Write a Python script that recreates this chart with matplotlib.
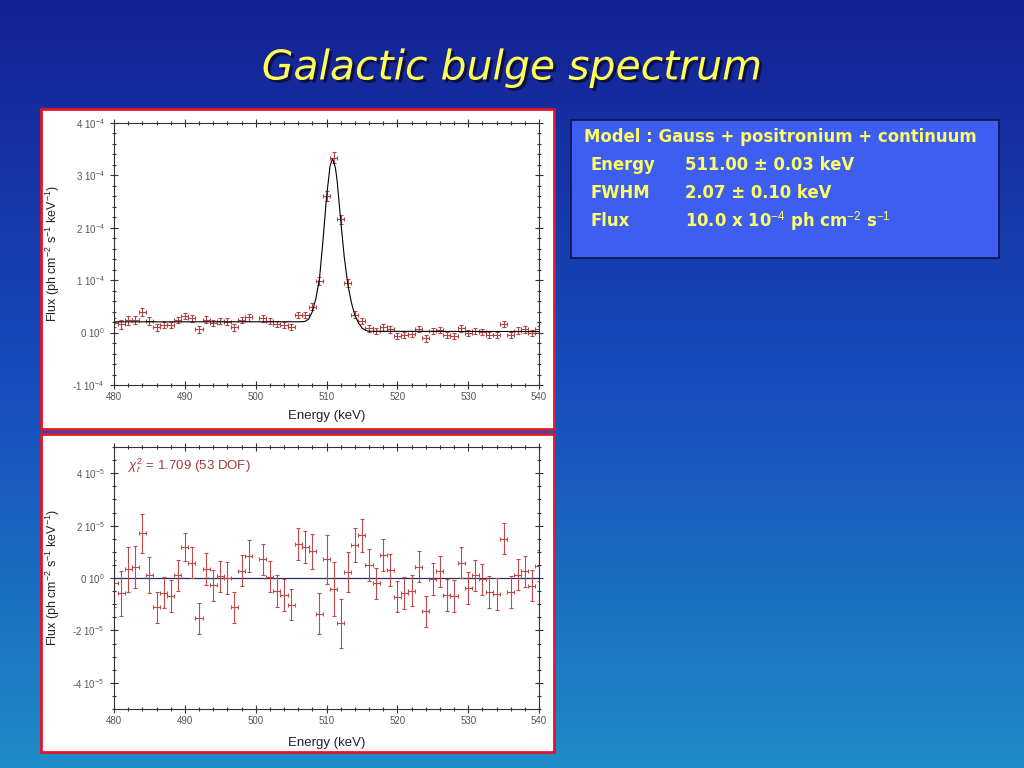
import numpy as np
import matplotlib
matplotlib.use("Agg")
import matplotlib.pyplot as plt
from matplotlib.patches import Rectangle
from matplotlib.ticker import MultipleLocator
from matplotlib.colors import LinearSegmentedColormap
import matplotlib.patheffects as pe

plt.rcParams['font.family'] = ['Liberation Sans', 'DejaVu Sans']
plt.rcParams['mathtext.fontset'] = 'custom'
plt.rcParams['mathtext.rm'] = 'Liberation Sans'
plt.rcParams['mathtext.it'] = 'Liberation Sans:italic'
plt.rcParams['mathtext.bf'] = 'Liberation Sans:bold'

# ---------------- data (flux values in units of 1e-5) ----------------
energy_keV = [480, 481, 482, 483, 484, 485, 486, 487, 488, 489,
              490, 491, 492, 493, 494, 495, 496, 497, 498, 499,
              501, 502, 503, 504, 505, 506, 507, 508, 509,
              510, 511, 512, 513, 514, 515, 516, 517, 518, 519,
              520, 521, 522, 523, 524, 525, 526, 527, 528, 529,
              530, 531, 532, 533, 534, 535, 536, 537, 538, 539, 540]

flux_e5 = [1.9, 1.6, 2.4, 2.4, 3.9, 2.2, 1.0, 1.5, 1.5, 2.4,
           3.2, 2.7, 0.6, 2.5, 1.9, 2.2, 2.1, 1.0, 2.4, 2.9,
           2.7, 2.2, 1.7, 1.5, 1.1, 3.4, 3.4, 4.9, 9.8,
           26.0, 33.4, 21.6, 9.4, 3.4, 2.2, 0.8, 0.3, 1.0, 0.6,
           -0.6, -0.4, -0.3, 0.7, -1.1, 0.3, 0.5, -0.5, -0.6, 0.8,
           -0.1, 0.3, 0.1, -0.4, -0.5, 1.7, -0.4, 0.4, 0.6, -0.1, 0.6]

flux_err_e5 = [0.90, 0.87, 0.86, 0.81, 0.75, 0.69, 0.60, 0.60, 0.60, 0.60,
               0.55, 0.60, 0.60, 0.60, 0.60, 0.60, 0.60, 0.60, 0.60, 0.60,
               0.60, 0.60, 0.60, 0.60, 0.60, 0.60, 0.62, 0.67, 0.78,
               0.95, 1.03, 0.93, 0.77, 0.66, 0.62, 0.60, 0.60, 0.60, 0.60,
               0.60, 0.60, 0.60, 0.60, 0.60, 0.60, 0.60, 0.60, 0.60, 0.60,
               0.60, 0.60, 0.60, 0.60, 0.60, 0.60, 0.60, 0.60, 0.60, 0.60, 0.60]

residual_e5 = [-0.20, -0.59, 0.33, 0.41, 1.71, 0.10, -1.12, -0.56, -0.68, 0.10,
               1.18, 0.59, -1.54, 0.34, -0.28, 0.06, 0.00, -1.12, 0.28, 0.84,
               0.71, 0.05, -0.50, -0.65, -1.02, 1.29, 1.18, 1.02, -1.36,
               0.71, -0.42, -1.73, 0.24, 1.26, 1.63, 0.50, -0.20, 0.87, 0.31,
               -0.71, -0.57, -0.48, 0.43, -1.27, -0.04, 0.25, -0.65, -0.69, 0.59,
               -0.39, 0.10, -0.05, -0.54, -0.61, 1.50, -0.54, 0.13, 0.25, -0.29, 0.47]

model_energy_keV = [480.0, 506.5, 507.0, 507.5, 508.0, 508.5, 509.0, 509.5,
                    510.0, 510.5, 510.85, 511.25, 511.5, 512.0, 512.5, 513.0,
                    513.5, 514.0, 514.5, 515.0, 515.5, 516.0, 540.0]
model_flux_e5 = [2.05, 2.07, 2.15, 2.6, 4.0, 6.5, 10.2, 17.5,
                 25.8, 31.8, 33.2, 31.5, 29.0, 21.5, 14.5, 9.3,
                 5.8, 3.3, 1.9, 0.9, 0.45, 0.25, 0.2]

bin_half_width_keV = 0.5

x_ticks = [480, 490, 500, 510, 520, 530, 540]
x_tick_labels = ["480", "490", "500", "510", "520", "530", "540"]
top_y_ticks = [-1e-4, 0.0, 1e-4, 2e-4, 3e-4, 4e-4]
top_y_tick_labels = [r"-1 10$^{-4}$", r"0 10$^{0}$", r"1 10$^{-4}$",
                     r"2 10$^{-4}$", r"3 10$^{-4}$", r"4 10$^{-4}$"]
bot_y_ticks = [-4e-5, -2e-5, 0.0, 2e-5, 4e-5]
bot_y_tick_labels = [r"-4 10$^{-5}$", r"-2 10$^{-5}$", r"0 10$^{0}$",
                     r"2 10$^{-5}$", r"4 10$^{-5}$"]

title_text = "Galactic bulge spectrum"
box_lines = [("Model : Gauss + positronium + continuum", None),
             ("Energy", "511.00 \u00b1 0.03 keV"),
             ("FWHM", "2.07 \u00b1 0.10 keV"),
             ("Flux", r"10.0 x 10$^{-4}$ ph cm$^{-2}$ s$^{-1}$")]
chi_text = r"$\chi^2_r$ = 1.709 (53 DOF)"
y_label = r"Flux (ph cm$^{-2}$ s$^{-1}$ keV$^{-1}$)"
x_label = "Energy (keV)"

# ---------------- figure ----------------
E = np.array(energy_keV, dtype=float)
F = np.array(flux_e5) * 1e-5
FE = np.array(flux_err_e5) * 1e-5
R = np.array(residual_e5) * 1e-5
ME = np.array(model_energy_keV)
MF = np.array(model_flux_e5) * 1e-5

W, H = 1024, 768
fig = plt.figure(figsize=(W / 100, H / 100), dpi=100)

bg = fig.add_axes([0, 0, 1, 1], zorder=0)
bg.set_xlim(0, W)
bg.set_ylim(H, 0)
bg.axis('off')
grad = np.linspace(0, 1, 256)[:, None]
cmap = LinearSegmentedColormap.from_list(
    'slide', [(0.08, 0.13, 0.58), (0.09, 0.30, 0.74), (0.12, 0.55, 0.78)])
bg.imshow(grad, extent=[0, W, H, 0], aspect='auto', cmap=cmap, zorder=0)

# panels
for (x0, y0, w, h) in [(41, 109, 513, 320), (41, 434, 513, 318)]:
    bg.add_patch(Rectangle((x0, y0), w, h, facecolor='white',
                           edgecolor='#e3142c', lw=2.0, zorder=1))

# text box
bg.add_patch(Rectangle((571, 120), 428, 138, facecolor='#3d5ef0',
                       edgecolor='#0c1450', lw=1.2, zorder=1))
ycur = [137, 165, 193, 221]
ytxt = '#ffff66'
box_font = dict(color=ytxt, fontsize=11.9, family='DejaVu Sans',
                weight='bold', va='center', ha='left', zorder=3)
for (lab, val), yy in zip(box_lines, ycur):
    if val is None:
        bg.text(584, yy, lab, **box_font)
    else:
        bg.text(591, yy, lab, **box_font)
        bg.text(685, yy, val, **box_font)

bg.text(512, 68, title_text, ha='center', va='center', fontsize=29.5,
        style='italic', color='#ffff55', family='DejaVu Sans', zorder=3,
        path_effects=[pe.withSimplePatchShadow(offset=(2, -2),
                                               shadow_rgbFace='#0a0a30',
                                               alpha=0.8)])

ax1 = fig.add_axes([114 / W, 1 - 385 / H, 425 / W, 262 / H], zorder=2)
ax2 = fig.add_axes([114 / W, 1 - 709 / H, 425 / W, 262 / H], zorder=2)

data_col = '#b04444'
ax1.errorbar(E, F, xerr=bin_half_width_keV, yerr=FE, fmt='none',
             ecolor=data_col, elinewidth=0.8, capsize=1.5, capthick=0.8)
ax1.plot(ME, MF, color='black', lw=0.8)
ax1.set_ylim(-1e-4, 4e-4)
ax1.set_yticks(top_y_ticks)
ax1.set_yticklabels(top_y_tick_labels)
ax1.yaxis.set_minor_locator(MultipleLocator(2e-5))

ax2.axhline(0, color='#283060', lw=0.9)
ax2.errorbar(E, R, xerr=bin_half_width_keV, yerr=FE, fmt='none',
             ecolor='#c04a4a', elinewidth=0.8, capsize=1.5, capthick=0.8)
ax2.set_ylim(-5e-5, 5e-5)
ax2.set_yticks(bot_y_ticks)
ax2.set_yticklabels(bot_y_tick_labels)
ax2.yaxis.set_minor_locator(MultipleLocator(5e-6))
ax2.text(0.033, 0.93, chi_text, transform=ax2.transAxes, color='#a83838',
         fontsize=9.5, va='center', ha='left')

for ax, xlab_y in [(ax1, -0.095), (ax2, -0.105)]:
    ax.set_xlim(480, 540)
    ax.set_xticks(x_ticks)
    ax.set_xticklabels(x_tick_labels)
    ax.xaxis.set_minor_locator(MultipleLocator(2))
    ax.tick_params(which='both', direction='inout', top=True, right=True,
                   width=0.8, color='#333333', labelsize=7,
                   labelcolor='#555555')
    ax.tick_params(axis='x', pad=2)
    ax.tick_params(axis='y', pad=4)
    ax.tick_params(which='major', length=6)
    ax.tick_params(which='minor', length=3.5)
    for s in ax.spines.values():
        s.set_color('#333333')
        s.set_linewidth(0.8)
    ax.set_xlabel(x_label, fontsize=9.5, color='#222222')
    ax.set_ylabel(y_label, fontsize=9, color='#222222')
    ax.xaxis.set_label_coords(0.5, xlab_y)
    ax.yaxis.set_label_coords(-0.122, 0.5)
    ax.set_facecolor('white')

fig.savefig('out.png', dpi=100)
